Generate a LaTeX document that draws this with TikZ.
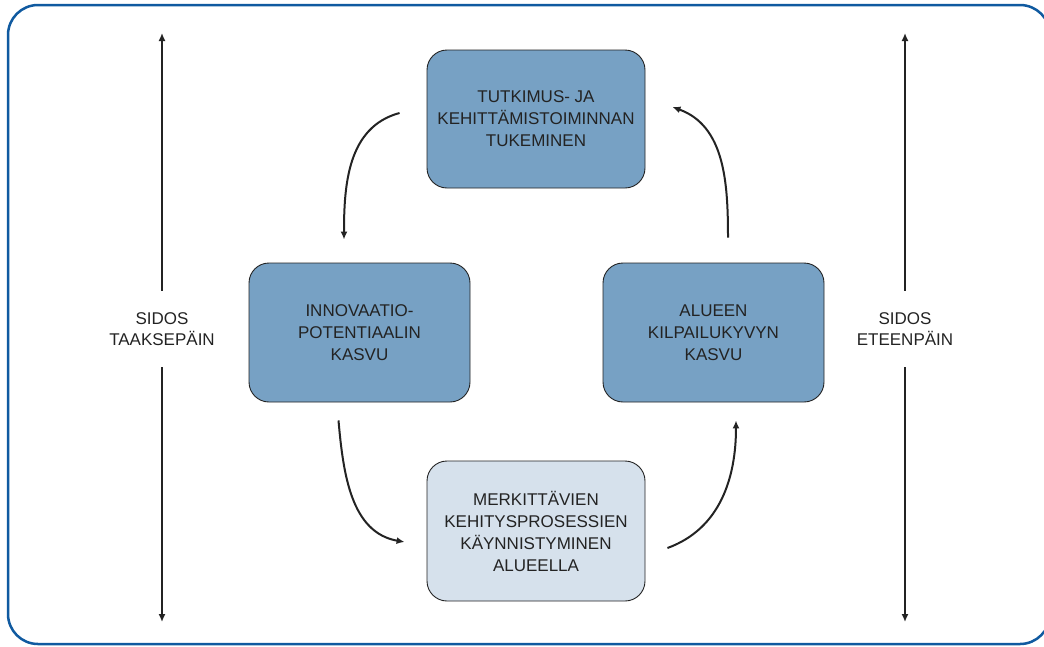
\documentclass[tikz,border=0pt]{standalone}
\usepackage{fontspec}
\setmainfont{Liberation Sans}
\usetikzlibrary{arrows.meta}
\definecolor{tumma}{RGB}{119,161,196}
\definecolor{vaalea}{RGB}{214,225,236}
\definecolor{kehys}{RGB}{16,90,160}
\definecolor{viiva}{RGB}{35,35,35}

\begin{document}
\begin{tikzpicture}[x=1pt,y=1pt,
    laatikko/.style={draw=viiva, line width=0.9pt, rounded corners=20pt, minimum width=218pt, minimum height=138pt, align=center, inner sep=0pt, text=viiva, font=\fontsize{17}{22}\selectfont},
    kierto/.style={line width=2pt, draw=viiva, -{Latex[length=8pt,width=7pt]}},
    sidos/.style={line width=1.5pt, draw=viiva, -{Latex[length=8pt,width=7pt]}},
    sidosteksti/.style={align=center, minimum height=76pt, inner sep=0pt, text=viiva, font=\fontsize{17}{21}\selectfont}]
    \clip (0,0) rectangle (1044,-646);

    % kehys
    \draw[kehys, line width=2.5pt, rounded corners=30pt] (8,-5) rectangle (1050,-644);

    % laatikot
    \node[laatikko, fill=tumma] (tutkimus) at (536,-119) {TUTKIMUS- JA\\KEHITTÄMISTOIMINNAN\\TUKEMINEN};
    \node[laatikko, fill=tumma, minimum width=221pt, minimum height=139pt] (innovaatio) at (359.5,-332.5) {INNOVAATIO-\\POTENTIAALIN\\KASVU};
    \node[laatikko, fill=tumma, minimum width=221pt, minimum height=139pt] (kilpailu) at (713.5,-332.5) {ALUEEN\\KILPAILUKYVYN\\KASVU};
    \node[laatikko, fill=vaalea, minimum height=140pt] (kehitys) at (536,-531) {MERKITTÄVIEN\\KEHITYSPROSESSIEN\\KÄYNNISTYMINEN\\ALUEELLA};

    % kierron nuolet
    \draw[kierto] ([xshift=-27pt,yshift=6pt]tutkimus.west) to[out=195,in=90] ([xshift=-15.5pt,yshift=23pt]innovaatio.north);
    \draw[kierto] ([xshift=-21pt,yshift=-18pt]innovaatio.south) to[out=-85,in=170] ([xshift=-22pt,yshift=-11pt]kehitys.west);
    \draw[kierto] ([xshift=22pt,yshift=-17pt]kehitys.east) to[out=20,in=-90] ([xshift=22.5pt,yshift=-18pt]kilpailu.south);
    \draw[kierto] ([xshift=14.5pt,yshift=25pt]kilpailu.north) to[out=90,in=-20] ([xshift=27pt,yshift=12pt]tutkimus.east);

    % sidokset
    \node[sidosteksti] (taakse) at (162,-329) {SIDOS\\TAAKSEPÄIN};
    \coordinate (taakseYla) at (162,-33);
    \coordinate (taakseAla) at (162,-622);
    \draw[sidos] (taakse) -- (taakseYla);
    \draw[sidos] (taakse) -- (taakseAla);

    \node[sidosteksti] (eteen) at (905,-329) {SIDOS\\ETEENPÄIN};
    \coordinate (eteenYla) at (905,-33);
    \coordinate (eteenAla) at (905,-622);
    \draw[sidos] (eteen) -- (eteenYla);
    \draw[sidos] (eteen) -- (eteenAla);
\end{tikzpicture}
\end{document}
